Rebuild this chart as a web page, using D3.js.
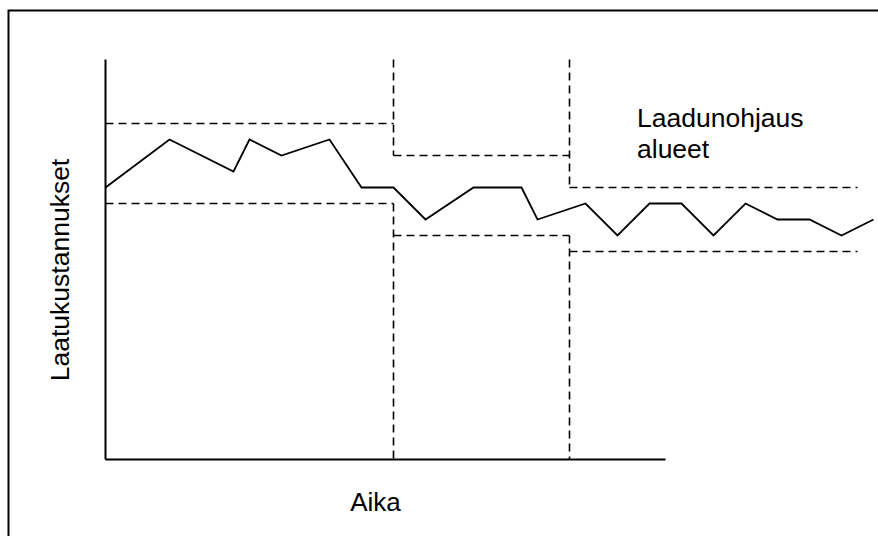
<!DOCTYPE html>
<html>
<head>
<meta charset="utf-8">
<script src="https://cdn.jsdelivr.net/npm/d3@7"></script>
<style>
  body { margin: 0; background: #fff; }
  text { font-family: "Liberation Sans", Arial, sans-serif; fill: #000; }
</style>
</head>
<body>
<svg id="chart" width="878" height="536"></svg>
<script>
// time units and quality costs
var times = [0, 4, 8, 9, 11, 14, 16, 18, 20, 23, 26, 27, 30, 32, 34, 36, 38, 40, 42, 44, 46, 48];
var costs = [17, 20, 18, 20, 19, 20, 17, 17, 15, 17, 17, 15, 16, 14, 16, 16, 14, 16, 15, 15, 14, 15];

// control regions
var regionStart = [0, 18, 29];
var regionEnd = [18, 29, 47];
var regionUpper = [21, 19, 17];
var regionLower = [16, 14, 13];

var xAxisEnd = 35;
var yAxisTop = 25;

var svg = d3.select('#chart');

var x = d3.scaleLinear()
    .domain([0, 48])
    .range([105.5, 873.5]);

var y = d3.scaleLinear()
    .domain([0, 25])
    .range([459.5, 59.5]);

// outer frame, runs off the right and bottom edge
svg.append('rect')
    .attr('x', 8.5)
    .attr('y', 10.5)
    .attr('width', 900)
    .attr('height', 600)
    .attr('fill', 'none')
    .attr('stroke', '#000')
    .attr('stroke-width', 2);

// axes as plain lines
svg.append('line')
    .attr('x1', x(0)).attr('x2', x(0))
    .attr('y1', y(0)).attr('y2', y(yAxisTop))
    .attr('stroke', '#000')
    .attr('stroke-width', 2);

svg.append('line')
    .attr('x1', x(0)).attr('x2', x(xAxisEnd))
    .attr('y1', y(0)).attr('y2', y(0))
    .attr('stroke', '#000')
    .attr('stroke-width', 2);

// region limits
var limits = [];
regionStart.forEach((s, i) => {
    limits.push({x1: s, x2: regionEnd[i], v: regionUpper[i]});
    limits.push({x1: s, x2: regionEnd[i], v: regionLower[i]});
});

svg.selectAll('line.limit')
    .data(limits)
    .join('line')
    .attr('class', 'limit')
    .attr('x1', d => x(d.x1))
    .attr('x2', d => x(d.x2))
    .attr('y1', d => y(d.v))
    .attr('y2', d => y(d.v))
    .attr('stroke', '#000')
    .attr('stroke-width', 1.6)
    .attr('stroke-dasharray', '8,5');

// region borders: from top down to the upper limits, and from lower limits to the axis
var borders = [];
for (var i = 1; i < regionStart.length; i++) {
    var bx = regionStart[i];
    borders.push({x: bx, v1: yAxisTop, v2: Math.min(regionUpper[i - 1], regionUpper[i])});
    borders.push({x: bx, v1: Math.max(regionLower[i - 1], regionLower[i]), v2: 0});
}

svg.selectAll('line.border')
    .data(borders)
    .join('line')
    .attr('class', 'border')
    .attr('x1', d => x(d.x))
    .attr('x2', d => x(d.x))
    .attr('y1', d => y(d.v1))
    .attr('y2', d => y(d.v2))
    .attr('stroke', '#000')
    .attr('stroke-width', 1.6)
    .attr('stroke-dasharray', '8,5');

// cost line
var line = d3.line()
    .x((d, i) => x(times[i]))
    .y(d => y(d));

svg.append('path')
    .datum(costs)
    .attr('d', line)
    .attr('fill', 'none')
    .attr('stroke', '#000')
    .attr('stroke-width', 1.8)
    .attr('stroke-linejoin', 'miter');

// labels
svg.append('text')
    .attr('x', 375.5)
    .attr('y', 511)
    .attr('text-anchor', 'middle')
    .style('font-size', '26px')
    .text('Aika');

svg.append('text')
    .attr('transform', 'translate(69,270) rotate(-90)')
    .attr('text-anchor', 'middle')
    .style('font-size', '26.5px')
    .text('Laatukustannukset');

var note = svg.append('text')
    .attr('x', 637)
    .attr('y', 127)
    .style('font-size', '26.5px');
note.append('tspan').attr('x', 637).text('Laadunohjaus');
note.append('tspan').attr('x', 637).attr('dy', 31).text('alueet');
</script>
</body>
</html>
